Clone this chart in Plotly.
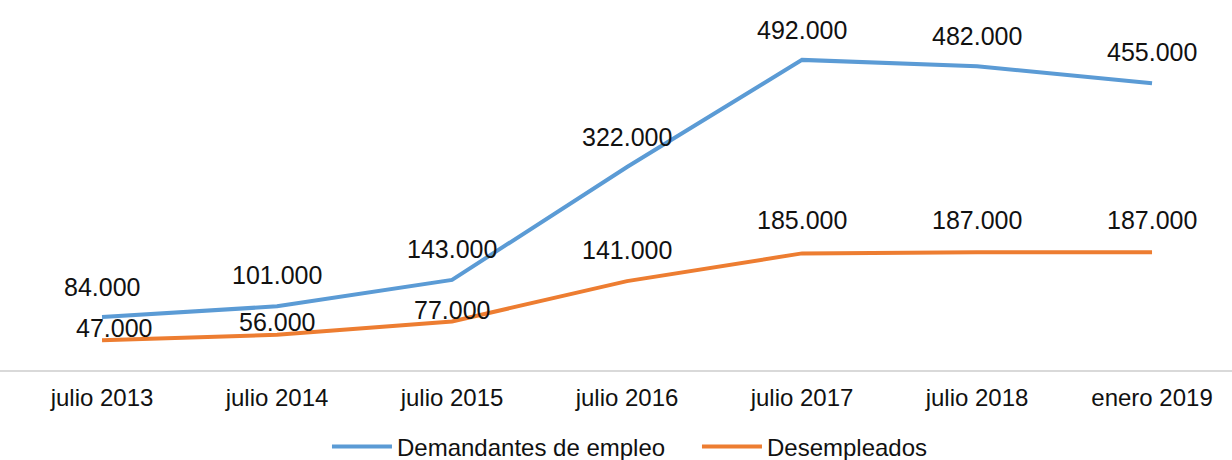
import plotly.graph_objects as go

categories = ["julio 2013", "julio 2014", "julio 2015", "julio 2016",
              "julio 2017", "julio 2018", "enero 2019"]
demandantes = [84000, 101000, 143000, 322000, 492000, 482000, 455000]
desempleados = [47000, 56000, 77000, 141000, 185000, 187000, 187000]

# label placement offsets (pixels), style only
dem_yshift = [30, 31, 31, 30, 30, 30, 31]
des_yshift = [12, 13, 11, 31, 33, 32, 32]
des_xshift = [12, 0, 0, 0, 0, 0, 0]

BLUE = "#5B9BD5"
ORANGE = "#ED7D31"
FONT = "Liberation Sans, Arial, sans-serif"


def fmt(v):
    return f"{v:,}".replace(",", ".")


fig = go.Figure()
fig.add_trace(go.Scatter(x=categories, y=demandantes, mode="lines",
                         name="Demandantes de empleo",
                         line=dict(color=BLUE, width=4), hoverinfo="skip"))
fig.add_trace(go.Scatter(x=categories, y=desempleados, mode="lines",
                         name="Desempleados",
                         line=dict(color=ORANGE, width=4), hoverinfo="skip"))

annotations = []
for c, v, ys in zip(categories, demandantes, dem_yshift):
    annotations.append(dict(x=c, y=v, text=fmt(v), showarrow=False,
                            yshift=ys, xanchor="center", yanchor="middle",
                            font=dict(family=FONT, size=25, color="#111111")))
for c, v, ys, xs in zip(categories, desempleados, des_yshift, des_xshift):
    annotations.append(dict(x=c, y=v, text=fmt(v), showarrow=False,
                            yshift=ys, xshift=xs, xanchor="center", yanchor="middle",
                            font=dict(family=FONT, size=25, color="#111111")))

fig.update_layout(
    width=1232, height=460,
    margin=dict(l=0, r=0, t=0, b=90, autoexpand=False),
    paper_bgcolor="white", plot_bgcolor="white",
    showlegend=True,
    legend=dict(orientation="h", x=0.2654, xanchor="left", y=-0.208,
                yanchor="middle", font=dict(family=FONT, size=24, color="#111111"),
                itemwidth=60, entrywidth=295, entrywidthmode="pixels",
                tracegroupgap=0),
    xaxis=dict(type="category", range=[-0.583, 6.457], showgrid=False,
               automargin=False,
               showline=True, linecolor="#d9d9d9", linewidth=2,
               ticks="", ticklabelstandoff=5,
               tickfont=dict(family=FONT, size=24, color="#111111")),
    yaxis=dict(range=[0, 587000], showgrid=False, showticklabels=False,
               automargin=False,
               zeroline=False, showline=False),
    annotations=annotations,
)

fig.write_html("out.html", config={"displayModeBar": False},
               post_script="document.body.style.margin='0';")
